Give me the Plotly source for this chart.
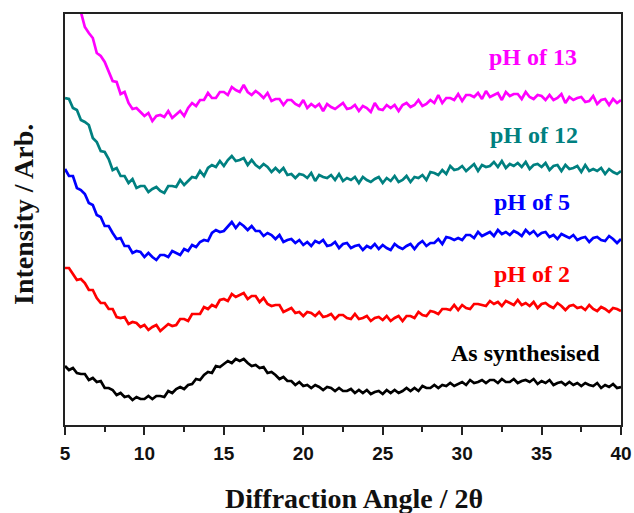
import plotly.graph_objects as go

# 2-theta scan grid (degrees), 0.25 degree step from 5 to 40
two_theta = [round(5 + 0.25 * i, 2) for i in range(141)]

# Stacked diffraction patterns (arbitrary intensity units, offset for display)
as_synthesised = [
    59, 55, 57, 52, 51, 51, 45, 47, 43, 44, 37, 37, 35, 30, 32, 28, 29, 25, 28, 26,
    26, 29, 26, 29, 29, 28, 34, 32, 36, 38, 36, 40, 41, 46, 45, 50, 53, 52, 59, 58,
    61, 64, 62, 66, 64, 66, 62, 59, 60, 57, 58, 52, 53, 50, 46, 48, 44, 44, 40, 43,
    39, 40, 37, 40, 38, 35, 38, 37, 34, 37, 34, 34, 36, 32, 35, 32, 35, 31, 33, 34,
    31, 35, 32, 35, 32, 34, 37, 34, 37, 34, 39, 37, 37, 40, 37, 40, 39, 42, 39, 41,
    43, 40, 45, 42, 43, 45, 42, 45, 45, 42, 46, 43, 43, 46, 42, 44, 45, 43, 46, 41,
    44, 42, 45, 40, 42, 43, 40, 43, 40, 42, 39, 42, 40, 39, 42, 37, 40, 38, 41, 37,
    38,
]
ph_2 = [
    157, 157, 151, 145, 146, 142, 135, 135, 127, 122, 122, 116, 116, 108, 107, 108, 101, 103, 102, 98,
    100, 95, 98, 100, 94, 98, 101, 99, 100, 106, 106, 104, 111, 111, 111, 118, 116, 120, 118, 125,
    126, 124, 131, 128, 130, 132, 126, 129, 129, 123, 127, 121, 119, 120, 120, 113, 115, 117, 112, 113,
    109, 113, 112, 109, 113, 108, 109, 111, 106, 110, 110, 107, 106, 111, 106, 107, 109, 104, 107, 108,
    105, 109, 104, 107, 109, 104, 109, 109, 107, 113, 110, 109, 114, 113, 111, 116, 116, 115, 120, 115,
    120, 117, 116, 121, 121, 120, 119, 124, 121, 123, 119, 124, 122, 120, 125, 120, 122, 119, 123, 117,
    121, 122, 119, 117, 122, 119, 115, 119, 120, 117, 118, 115, 120, 116, 114, 118, 116, 113, 117, 116,
    114,
]
ph_5 = [
    256, 249, 249, 237, 235, 231, 222, 220, 210, 208, 199, 199, 192, 186, 187, 179, 179, 172, 174, 173,
    168, 172, 168, 165, 170, 170, 168, 174, 172, 170, 176, 174, 180, 178, 183, 185, 184, 192, 195, 193,
    194, 199, 203, 197, 202, 199, 195, 199, 194, 194, 189, 192, 190, 186, 190, 183, 185, 186, 182, 185,
    180, 183, 179, 184, 182, 185, 179, 180, 183, 177, 181, 182, 177, 179, 180, 175, 179, 177, 181, 176,
    180, 177, 175, 181, 178, 176, 179, 181, 176, 181, 184, 179, 182, 182, 186, 181, 188, 187, 185, 187,
    185, 190, 190, 187, 193, 189, 191, 193, 189, 195, 191, 193, 190, 194, 192, 189, 195, 191, 194, 189,
    192, 193, 188, 190, 186, 191, 189, 187, 190, 185, 187, 188, 183, 187, 188, 185, 184, 189, 186, 182,
    186,
]
ph_12 = [
    327, 326, 317, 315, 305, 303, 300, 287, 283, 274, 273, 266, 255, 257, 249, 249, 242, 246, 237, 239,
    239, 233, 236, 238, 234, 232, 239, 239, 238, 245, 240, 244, 248, 247, 254, 249, 257, 260, 258, 264,
    259, 265, 269, 264, 265, 267, 260, 265, 260, 257, 261, 258, 253, 257, 253, 257, 250, 251, 247, 251,
    250, 247, 252, 244, 250, 248, 247, 250, 245, 251, 244, 247, 245, 248, 242, 248, 245, 243, 246, 248,
    242, 247, 244, 249, 243, 245, 249, 243, 248, 247, 250, 245, 253, 252, 250, 255, 251, 259, 255, 256,
    259, 254, 258, 261, 254, 260, 258, 259, 263, 258, 264, 257, 261, 259, 262, 258, 263, 256, 260, 261,
    258, 262, 255, 259, 260, 254, 260, 256, 257, 259, 253, 260, 254, 256, 254, 257, 251, 256, 253, 251,
    254,
]
ph_13 = [
    449, 434, 428, 417, 413, 398, 392, 387, 372, 369, 363, 353, 344, 343, 331, 333, 322, 316, 317, 313,
    309, 312, 304, 309, 310, 308, 314, 307, 311, 314, 309, 317, 322, 319, 325, 325, 332, 327, 327, 333,
    333, 330, 338, 335, 333, 340, 333, 330, 334, 331, 327, 332, 324, 326, 326, 320, 325, 325, 321, 319,
    325, 317, 321, 318, 321, 314, 321, 318, 316, 319, 322, 316, 317, 320, 314, 319, 317, 313, 322, 316,
    315, 320, 317, 320, 314, 320, 322, 318, 320, 325, 319, 321, 325, 322, 330, 322, 327, 327, 325, 331,
    324, 330, 330, 328, 332, 326, 334, 328, 330, 332, 325, 333, 329, 331, 331, 326, 333, 328, 326, 330,
    329, 325, 330, 325, 327, 331, 322, 328, 325, 327, 328, 323, 324, 329, 321, 325, 326, 320, 326, 322,
    325,
]

series_names = ["As synthesised", "pH of 2", "pH of 5", "pH of 12", "pH of 13"]
series_values = [as_synthesised, ph_2, ph_5, ph_12, ph_13]
series_colors = ["#000000", "#ff0000", "#0000ff", "#008080", "#ff00ff"]

# Label anchor points (2-theta, intensity) for each pattern
label_x = [34.0, 34.4, 34.4, 34.55, 34.45]
label_y = [72, 151, 223, 290, 368]

serif = "Liberation Serif, Times New Roman, serif"
sans = "Liberation Sans, Arial, sans-serif"
axis_line = "#222222"

fig = go.Figure()
for name, vals, col in zip(series_names, series_values, series_colors):
    fig.add_trace(go.Scatter(
        x=two_theta, y=vals, mode="lines", name=name,
        line=dict(color=col, width=2.7),
        showlegend=False,
    ))

for name, col, lx, ly in zip(series_names, series_colors, label_x, label_y):
    fig.add_annotation(
        x=lx, y=ly, text=name, showarrow=False,
        xanchor="center", yanchor="middle",
        font=dict(family=serif, size=24, color=col, weight="bold"),
    )

# Axis titles
fig.add_annotation(
    xref="paper", yref="paper", x=0.519, y=-0.178,
    text="Diffraction Angle / 2θ", showarrow=False,
    xanchor="center", yanchor="middle",
    font=dict(family=serif, size=28, color="#111111", weight="bold"),
)
fig.add_annotation(
    xref="paper", yref="paper", x=-0.0737, y=0.511,
    text="Intensity / Arb.", showarrow=False, textangle=-90,
    xanchor="center", yanchor="middle",
    font=dict(family=serif, size=28, color="#111111", weight="bold"),
)

fig.update_layout(
    width=634, height=513,
    margin=dict(l=65, r=13, t=14, b=88),
    paper_bgcolor="white", plot_bgcolor="white",
    xaxis=dict(
        range=[5, 40], tickmode="array", tickvals=[5, 10, 15, 20, 25, 30, 35, 40],
        ticks="outside", ticklen=8, tickwidth=1.5, tickcolor=axis_line,
        minor=dict(dtick=2.5, ticks="outside", ticklen=5, tickwidth=1.5, tickcolor=axis_line),
        showline=True, linecolor=axis_line, linewidth=1.5, mirror=True,
        showgrid=False, zeroline=False, automargin=False,
        ticklabelstandoff=2,
        tickfont=dict(family=sans, size=19, color="#111111", weight="bold"),
    ),
    yaxis=dict(
        range=[0, 411], showticklabels=False, ticks="",
        showline=True, linecolor=axis_line, linewidth=1.5, mirror=True,
        showgrid=False, zeroline=False, automargin=False,
    ),
)

fig.write_html("out.html")
